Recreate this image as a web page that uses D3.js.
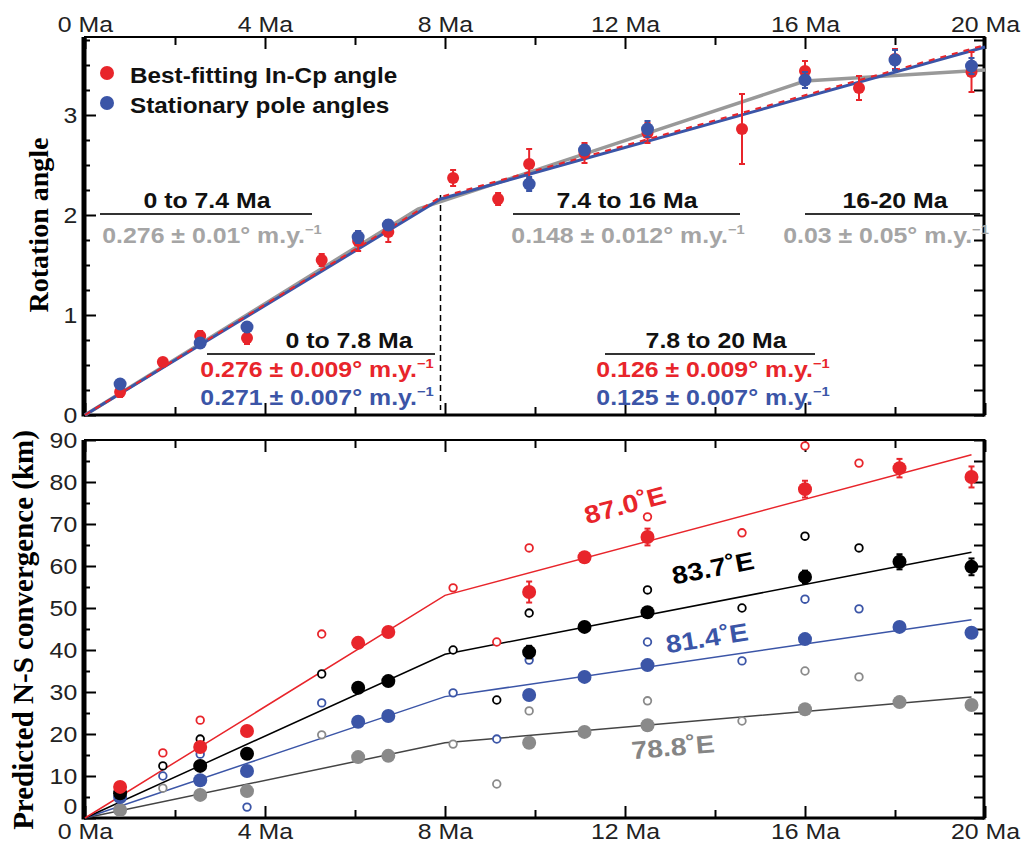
<!DOCTYPE html>
<html>
<head>
<meta charset="utf-8">
<script src="https://cdn.jsdelivr.net/npm/d3@7"></script>
<style>
body { margin: 0; background: #fff; }
text { font-family: "Liberation Sans", Arial, sans-serif; }
</style>
</head>
<body>
<svg id="chart" width="1034" height="853"></svg>
<script>
// ---- data: top panel (rotation angle, degrees) ----
var redAges  = [0.78, 1.73, 2.56, 3.6, 5.26, 6.07, 6.74, 8.18, 9.18, 9.87, 11.1, 12.5, 14.6, 16.0, 17.2, 18.0, 19.7];
var redAngle = [0.23, 0.53, 0.79, 0.77, 1.55, 1.74, 1.83, 2.37, 2.16, 2.51, 2.62, 2.82, 2.86, 3.44, 3.27, 3.56, 3.43];
var redErr   = [0.05, 0.03, 0.05, 0.06, 0.06, 0.10, 0.10, 0.08, 0.06, 0.15, 0.10, 0.10, 0.35, 0.10, 0.12, 0.10, 0.20];
var blueAges  = [0.78, 2.56, 3.6, 6.07, 6.74, 9.87, 11.1, 12.5, 16.0, 18.0, 19.7];
var blueAngle = [0.31, 0.72, 0.88, 1.78, 1.90, 2.31, 2.65, 2.86, 3.35, 3.55, 3.49];
var blueErr   = [0.03, 0.03, 0.03, 0.06, 0.05, 0.07, 0.05, 0.08, 0.08, 0.10, 0.08];
// fitted lines (age, angle)
var grayFit = [[0, 0], [7.4, 2.06], [16, 3.34], [20, 3.45]];
var redFit  = [[0, 0], [7.9, 2.18], [20, 3.70]];
var blueFit = [[0, 0], [7.9, 2.16], [20, 3.68]];
var breakAge = 7.9;

// ---- data: bottom panel (N-S convergence, km) ----
var fillAges = [0.78, 2.56, 3.6, 6.07, 6.74, 9.87, 11.1, 12.5, 16.0, 18.1, 19.7];
var red87    = [7.4, 16.9, 20.7, 41.7, 44.3, 53.8, 62.1, 66.9, 78.3, 83.3, 81.2];
var black83  = [5.9, 12.4, 15.3, 31.0, 32.6, 39.5, 45.5, 49.0, 57.4, 61.0, 59.8];
var blue81   = [5.0, 9.0, 11.2, 22.9, 24.3, 29.3, 33.6, 36.4, 42.6, 45.5, 44.1];
var gray78   = [1.9, 5.5, 6.4, 14.5, 14.8, 17.9, 20.5, 22.1, 25.9, 27.6, 26.9];
var red87Err   = [0.8, 0.8, 0.6, 1.0, 0.6, 2.5, 1.0, 2.0, 2.0, 2.2, 2.5];
var black83Err = [0.6, 0.6, 0.6, 0.8, 0.5, 1.5, 0.6, 0.8, 1.5, 1.8, 2.0];
var blue81Err  = [0.4, 0.4, 0.5, 0.6, 0.4, 1.0, 0.5, 0.6, 0.8, 1.0, 1.0];
var gray78Err  = [0.3, 0.3, 0.4, 0.5, 0.3, 0.6, 0.4, 0.5, 0.6, 0.8, 0.8];
var openAges  = [1.73, 2.56, 3.6, 5.26, 8.18, 9.15, 9.87, 12.5, 14.6, 16.0, 17.2];
var redOpen   = [15.5, 23.3, null, 43.8, 54.8, 41.9, 64.3, 71.7, 67.9, 88.6, 84.5];
var blackOpen = [12.4, 18.8, null, 34.3, 40.0, 28.1, 48.8, 54.3, 50.0, 67.1, 64.3];
var blueOpen  = [10.0, 15.2, 2.6, 27.4, 29.8, 18.8, 37.6, 41.9, 37.4, 52.1, 49.8];
var grayOpen  = [7.1, null, null, 19.8, 17.6, 8.1, 25.5, 27.9, 23.1, 35.0, 33.6];
var redLine   = [[0, 0], [8.0, 53.0], [19.7, 86.5]];
var blackLine = [[0, 0], [8.0, 39.0], [19.7, 63.3]];
var blueLine  = [[0, 0], [8.0, 28.9], [19.7, 47.2]];
var grayLine  = [[0, 0], [8.0, 17.9], [19.7, 28.8]];

var xMajor = [0, 4, 8, 12, 16, 20];
var xMinor = [2, 6, 10, 14, 18];

var RED = '#e8252b', BLUE = '#3b55a7', GRAY = '#8a8a8a', LGRAY = '#a5a5a5';
var SX = 1.13; // the original lettering is a little wide

var svg = d3.select('#chart');
var x = d3.scaleLinear().domain([0, 20]).range([85, 985]);
var yTop = d3.scaleLinear().domain([0, 3.78]).range([415, 37]);
var yBot = d3.scaleLinear().domain([0, 90]).range([818, 440]);

// text drawn at (px,py) and stretched horizontally about its anchor
function wideText(px, py, anchor) {
  return svg.append('text')
    .attr('transform', 'translate(' + px + ',' + py + ') scale(' + SX + ',1)')
    .attr('text-anchor', anchor || 'start');
}

function frame(y, yMajor, yMinor, yFmt, xLabelsTop) {
  var b = y.range()[0], t = y.range()[1];
  var g = svg.append('g');
  g.append('g').attr('transform', 'translate(0,' + t + ')')
    .call(d3.axisTop(x).tickValues(xMajor).tickSizeInner(-12).tickSizeOuter(0).tickPadding(5)
      .tickFormat(xLabelsTop ? function(d) { return d + ' Ma'; } : ''));
  g.append('g').attr('transform', 'translate(0,' + t + ')')
    .call(d3.axisTop(x).tickValues(xMinor).tickSizeInner(-8).tickSizeOuter(0).tickFormat(''));
  g.append('g').attr('transform', 'translate(0,' + b + ')')
    .call(d3.axisBottom(x).tickValues(xMajor).tickSizeInner(-12).tickSizeOuter(0).tickPadding(5)
      .tickFormat(xLabelsTop ? '' : function(d) { return d + ' Ma'; }));
  g.append('g').attr('transform', 'translate(0,' + b + ')')
    .call(d3.axisBottom(x).tickValues(xMinor).tickSizeInner(-8).tickSizeOuter(0).tickFormat(''));
  var left = g.append('g').attr('class', 'yleft').attr('transform', 'translate(84,0)')
    .call(d3.axisLeft(y).tickValues(yMajor).tickSizeInner(-12).tickSizeOuter(0).tickPadding(6).tickFormat(yFmt));
  g.append('g').attr('transform', 'translate(84,0)')
    .call(d3.axisLeft(y).tickValues(yMinor).tickSizeInner(-6).tickSizeOuter(0).tickFormat(''));
  g.append('g').attr('transform', 'translate(984,0)')
    .call(d3.axisRight(y).tickValues(yMajor.concat(yMinor)).tickSizeInner(-10).tickSizeOuter(0).tickFormat(''));
  g.selectAll('.domain').remove();
  g.selectAll('.tick line').attr('stroke', '#000').attr('stroke-width', 2);
  g.selectAll('.tick text').attr('font-size', 22).attr('fill', '#222')
    .style('font-family', '"Liberation Sans", Arial, sans-serif')
    .attr('transform', 'scale(' + SX + ',1)');
  g.append('line').attr('x1', 84).attr('x2', 984).attr('y1', t).attr('y2', t).attr('stroke', '#000').attr('stroke-width', 2);
  g.append('line').attr('x1', 84).attr('x2', 984).attr('y1', b).attr('y2', b).attr('stroke', '#000').attr('stroke-width', 3);
  g.append('line').attr('x1', 84).attr('x2', 84).attr('y1', t).attr('y2', b + 1.5).attr('stroke', '#000').attr('stroke-width', 5);
  g.append('line').attr('x1', 984).attr('x2', 984).attr('y1', t - 1).attr('y2', b + 1.5).attr('stroke', '#000').attr('stroke-width', 3);
  return left;
}

frame(yTop, [0, 1, 2, 3], [0.25, 0.5, 0.75, 1.25, 1.5, 1.75, 2.25, 2.5, 2.75, 3.25, 3.5, 3.75], d3.format('d'), true);
var botLeft = frame(yBot, d3.range(0, 100, 10), d3.range(5, 90, 10), d3.format('d'), false);
// the bottom "0" sits a little higher so it clears "0 Ma"
botLeft.selectAll('.tick text').filter(function(d) { return d === 0; }).attr('dy', '-0.2em');

// ---------- top panel ----------
var lineTop = d3.line().x(function(d) { return x(d[0]); }).y(function(d) { return yTop(d[1]); });

svg.append('line')
  .attr('x1', x(breakAge)).attr('x2', x(breakAge))
  .attr('y1', yTop(2.2)).attr('y2', yTop(0.05))
  .attr('stroke', '#000').attr('stroke-width', 1.5).attr('stroke-dasharray', '6,4');

svg.append('path').datum(grayFit).attr('d', lineTop)
  .attr('fill', 'none').attr('stroke', '#999').attr('stroke-width', 3.5);
svg.append('path').datum(blueFit).attr('d', lineTop)
  .attr('fill', 'none').attr('stroke', BLUE).attr('stroke-width', 3);
svg.append('path').datum(redFit).attr('d', lineTop)
  .attr('fill', 'none').attr('stroke', RED).attr('stroke-width', 2).attr('stroke-dasharray', '6,6');

function errPoints(g, ages, vals, errs, y, color, r) {
  var pts = ages.map(function(a, i) { return {a: a, v: vals[i], e: errs[i]}; })
    .filter(function(d) { return d.v != null; });
  var bars = g.append('g').selectAll('g').data(pts).enter().append('g');
  bars.append('line')
    .attr('x1', function(d) { return x(d.a); }).attr('x2', function(d) { return x(d.a); })
    .attr('y1', function(d) { return y(d.v - d.e); }).attr('y2', function(d) { return y(d.v + d.e); })
    .attr('stroke', color).attr('stroke-width', 2);
  [1, -1].forEach(function(s) {
    bars.append('line')
      .attr('x1', function(d) { return x(d.a) - 3; }).attr('x2', function(d) { return x(d.a) + 3; })
      .attr('y1', function(d) { return y(d.v + s * d.e); }).attr('y2', function(d) { return y(d.v + s * d.e); })
      .attr('stroke', color).attr('stroke-width', 2);
  });
  g.append('g').selectAll('circle').data(pts).enter().append('circle')
    .attr('cx', function(d) { return x(d.a); })
    .attr('cy', function(d) { return y(d.v); })
    .attr('r', r).attr('fill', color);
}

var topPts = svg.append('g');
errPoints(topPts, redAges, redAngle, redErr, yTop, RED, 6);
errPoints(topPts, blueAges, blueAngle, blueErr, yTop, BLUE, 6.5);

// legend
svg.append('circle').attr('cx', 107).attr('cy', 73).attr('r', 7).attr('fill', RED);
svg.append('circle').attr('cx', 107).attr('cy', 103).attr('r', 7).attr('fill', BLUE);
wideText(130, 83).attr('font-size', 21.5).attr('font-weight', 'bold').attr('fill', '#111')
  .text('Best-fitting In-Cp angle');
wideText(130, 113).attr('font-size', 21.5).attr('font-weight', 'bold').attr('fill', '#111')
  .text('Stationary pole angles');

// annotations
function rateText(cx, y, color, str) {
  var t = wideText(cx, y, 'middle').attr('font-size', 22).attr('font-weight', 'bold').attr('fill', color);
  t.append('tspan').text(str + '\u00b0 m.y.');
  t.append('tspan').attr('dy', -9).attr('font-size', 13).text('\u2212' + '1');
}
function header(cx, y, x1, x2, str) {
  wideText(cx, y, 'middle').attr('font-size', 22).attr('font-weight', 'bold').attr('fill', '#111').text(str);
  svg.append('line').attr('x1', x1).attr('x2', x2).attr('y1', y + 6).attr('y2', y + 6)
    .attr('stroke', '#333').attr('stroke-width', 2);
}
header(207, 208, 100, 312, '0 to 7.4 Ma');
rateText(212, 243, LGRAY, '0.276 \u00b1 0.01');
header(627, 208, 513, 740, '7.4 to 16 Ma');
rateText(628, 243, LGRAY, '0.148 \u00b1 0.012');
header(895, 208, 805, 980, '16-20 Ma');
rateText(886, 243, LGRAY, '0.03 \u00b1 0.05');

header(349, 348, 207, 435, '0 to 7.8 Ma');
rateText(317, 377, RED, '0.276 \u00b1 0.009');
rateText(317, 405, BLUE, '0.271 \u00b1 0.007');
header(716, 348, 605, 815, '7.8 to 20 Ma');
rateText(713, 377, RED, '0.126 \u00b1 0.009');
rateText(713, 405, BLUE, '0.125 \u00b1 0.007');

// ---------- bottom panel ----------
var lineBot = d3.line().x(function(d) { return x(d[0]); }).y(function(d) { return yBot(d[1]); });
var series = [
  {line: grayLine,  fill: gray78,  err: gray78Err,  open: grayOpen,  color: GRAY,   lc: '#444', label: '78.8\u02daE', lx: 673, ly: 747, rot: -5},
  {line: blueLine,  fill: blue81,  err: blue81Err,  open: blueOpen,  color: BLUE,   lc: BLUE,   label: '81.4\u02daE', lx: 707, ly: 638, rot: -9},
  {line: blackLine, fill: black83, err: black83Err, open: blackOpen, color: '#000', lc: '#000', label: '83.7\u02daE', lx: 713, ly: 568, rot: -11},
  {line: redLine,   fill: red87,   err: red87Err,   open: redOpen,   color: RED,    lc: RED,    label: '87.0\u02daE', lx: 625, ly: 505, rot: -15}
];

series.forEach(function(s) {
  svg.append('path').datum(s.line).attr('d', lineBot)
    .attr('fill', 'none').attr('stroke', s.lc).attr('stroke-width', 1.5);
});
series.forEach(function(s) {
  var op = openAges.map(function(a, i) { return {a: a, v: s.open[i]}; })
    .filter(function(d) { return d.v != null; });
  svg.append('g').selectAll('circle').data(op).enter().append('circle')
    .attr('cx', function(d) { return x(d.a); })
    .attr('cy', function(d) { return yBot(d.v); })
    .attr('r', 3.8).attr('fill', '#fff').attr('stroke', s.color).attr('stroke-width', 1.8);
});
series.forEach(function(s) {
  errPoints(svg.append('g'), fillAges, s.fill, s.err, yBot, s.color, 7);
});
series.forEach(function(s) {
  svg.append('text')
    .attr('transform', 'translate(' + s.lx + ',' + s.ly + ') rotate(' + s.rot + ') scale(' + SX + ',1)')
    .attr('text-anchor', 'middle').attr('dy', '0.35em')
    .attr('font-size', 25).attr('font-weight', 'bold')
    .attr('fill', s.color === GRAY ? '#858585' : s.color)
    .text(s.label);
});

// axis titles
svg.append('text').attr('transform', 'translate(48,225) rotate(-90)')
  .attr('text-anchor', 'middle').attr('font-size', 28).attr('font-weight', 'bold')
  .style('font-family', '"Liberation Serif", "Times New Roman", serif')
  .text('Rotation angle');
svg.append('text').attr('transform', 'translate(33,630) rotate(-90)')
  .attr('text-anchor', 'middle').attr('font-size', 29).attr('font-weight', 'bold')
  .style('font-family', '"Liberation Serif", "Times New Roman", serif')
  .text('Predicted N-S convergence (km)');
</script>
</body>
</html>
